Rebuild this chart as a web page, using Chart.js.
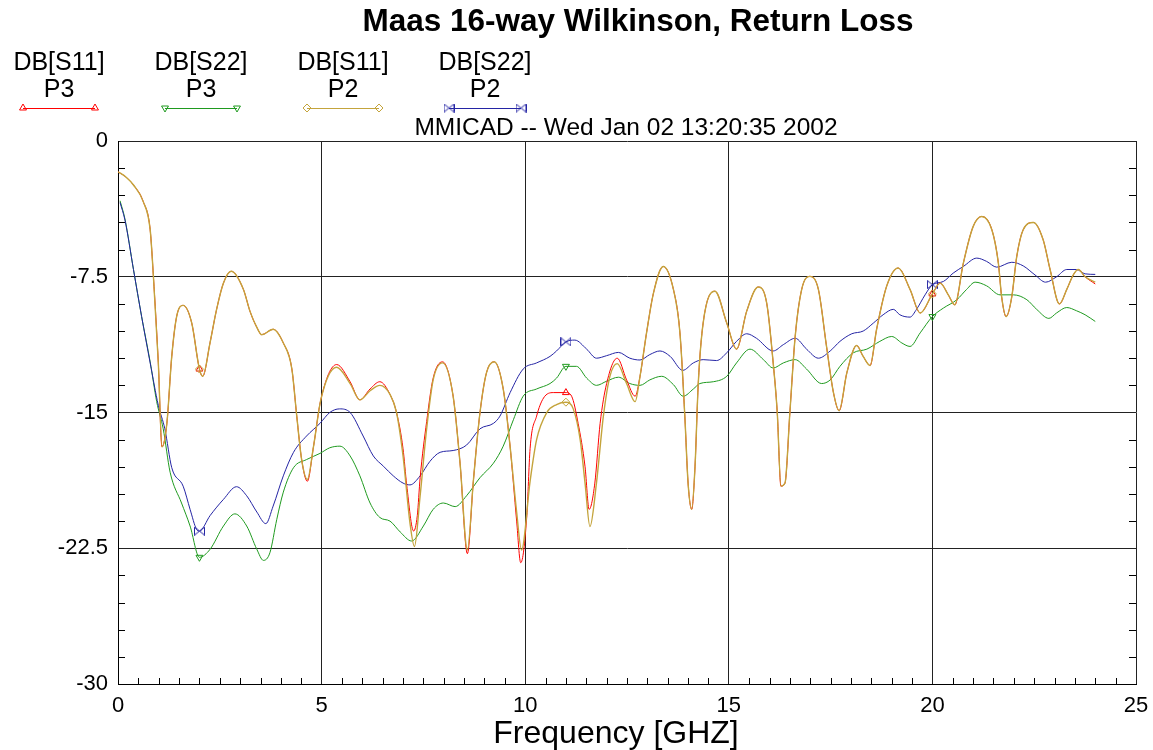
<!DOCTYPE html>
<html>
<head>
<meta charset="utf-8">
<title>Maas 16-way Wilkinson, Return Loss</title>
<script src="https://cdn.jsdelivr.net/npm/chart.js@4/dist/chart.umd.min.js"></script>
<style>
  html, body { margin: 0; padding: 0; background: #fff; }
  #wrap { position: relative; width: 1153px; height: 750px; font-family: "Liberation Sans", Arial, sans-serif; color: #000; }
  #chart { position: absolute; left: 0; top: 0; }
  .txt { position: absolute; white-space: nowrap; line-height: 1; text-align: center; }
  #title { font-weight: bold; font-size: 31.5px; top: 5px; left: 338px; width: 600px; }
  #stamp { font-size: 24.5px; top: 115px; left: 326px; width: 600px; }
  #xtitle { font-size: 32px; top: 716px; left: 316px; width: 600px; }
  .leg { font-size: 25px; width: 140px; }
</style>
</head>
<body>
<div id="wrap">
  <canvas id="chart" width="1153" height="750"></canvas>
  <div id="title" class="txt"></div>
  <div id="stamp" class="txt"></div>
  <div id="xtitle" class="txt"></div>
</div>
<script>
'use strict';

// ---- data ----
const chartTitle = 'Maas 16-way Wilkinson, Return Loss';
const stampText = 'MMICAD -- Wed Jan 02 13:20:35 2002';
const xTitle = 'Frequency [GHZ]';
const legendTop = ['DB[S11]', 'DB[S22]', 'DB[S11]', 'DB[S22]'];
const legendBottom = ['P3', 'P3', 'P2', 'P2'];
const xMin = 0, xMax = 25, xStep = 5;
const yMin = -30, yMax = 0, yStep = 7.5;
const markerFreqs = [2, 11, 20];

// DB[S11] P3
const s11p3Freq = [0,0.2,0.38,0.62,0.79,0.87,0.99,1.08,1.2,1.32,
  1.44,1.6,1.81,2.0,2.08,2.26,2.42,2.59,2.78,3.08,
  3.24,3.41,3.53,3.81,4.06,4.27,4.39,4.51,4.65,4.8,
  4.98,5.37,5.7,5.94,6.19,6.43,6.68,6.84,7.0,7.09,
  7.26,7.35,7.42,7.58,7.74,7.97,8.23,8.4,8.58,8.73,
  8.89,9.05,9.24,9.46,9.63,9.79,9.89,10.04,10.12,10.28,
  10.45,10.69,11.0,11.14,11.3,11.47,11.57,11.71,11.84,12.0,
  12.26,12.49,12.7,12.82,12.98,13.15,13.39,13.64,13.8,13.92,
  14.0,14.09,14.17,14.25,14.37,14.66,14.95,15.19,15.44,15.72,
  15.93,16.09,16.19,16.28,16.38,16.5,16.63,16.79,16.99,17.2,
  17.4,17.57,17.71,17.9,18.14,18.3,18.47,18.63,18.88,19.16,
  19.45,19.7,20.0,20.19,20.39,20.55,20.76,21.0,21.21,21.46,
  21.62,21.7,21.81,21.95,22.07,22.23,22.48,22.72,22.89,23.12,
  23.3,23.46,23.58,23.75,24.0];
const s11p3Db = [-1.7,-2.0,-2.43,-3.35,-4.9,-7.5,-12.25,-16.9,-15.6,-11.9,
  -9.7,-9.08,-10.05,-12.6,-13.0,-11.15,-9.32,-7.85,-7.2,-8.2,
  -9.4,-10.3,-10.7,-10.4,-11.16,-12.6,-15.2,-17.6,-18.8,-16.9,
  -14.3,-12.35,-13.3,-14.3,-13.7,-13.3,-14.0,-15.0,-17.0,-19.0,
  -21.55,-20.7,-18.6,-15.5,-13.1,-12.2,-14.1,-17.8,-22.8,-18.7,
  -15.0,-12.8,-12.2,-13.7,-16.9,-21.0,-23.3,-20.7,-17.0,-15.2,
  -14.2,-13.9,-13.9,-14.1,-15.6,-18.0,-20.35,-18.9,-15.6,-13.4,
  -12.0,-13.2,-14.1,-13.0,-10.6,-8.4,-6.93,-8.2,-10.6,-15.2,
  -18.9,-20.35,-18.0,-13.4,-10.06,-8.3,-10.06,-11.5,-9.4,-8.07,
  -8.95,-12.26,-15.0,-19.07,-18.9,-15.0,-10.8,-8.2,-7.48,-8.2,
  -11.35,-13.9,-14.9,-12.8,-11.3,-11.9,-12.4,-10.4,-8.0,-7.02,
  -8.2,-9.5,-8.45,-7.85,-8.5,-9.05,-6.75,-4.73,-4.17,-4.9,
  -6.75,-8.6,-9.7,-8.6,-6.4,-4.9,-4.5,-5.46,-7.1,-9.0,
  -8.2,-7.4,-7.1,-7.5,-7.9];

// DB[S22] P3
const s22p3Freq = [0.05,0.17,0.38,0.58,0.79,0.95,1.11,1.28,1.56,1.77,
  2.0,2.26,2.59,2.87,3.16,3.41,3.57,3.73,3.9,4.06,
  4.31,4.63,4.96,5.2,5.45,5.7,5.94,6.19,6.43,6.68,
  6.93,7.21,7.5,7.74,7.99,8.28,8.56,8.89,9.22,9.46,
  9.71,9.95,10.28,10.61,10.77,11.0,11.26,11.51,11.75,12.0,
  12.29,12.57,12.82,13.06,13.35,13.64,13.88,14.13,14.29,14.62,
  14.95,15.19,15.52,15.85,16.09,16.34,16.63,16.91,17.28,17.49,
  17.73,18.06,18.39,18.71,19.0,19.25,19.45,19.7,20.0,20.27,
  20.6,20.84,21.05,21.33,21.66,21.99,22.32,22.56,22.86,23.05,
  23.3,23.54,23.75,24.0];
const s22p3Db = [-3.3,-4.3,-7.1,-9.7,-12.2,-14.4,-15.9,-18.3,-20.0,-21.27,
  -23.0,-22.56,-21.27,-20.6,-21.27,-22.56,-23.17,-22.75,-20.9,-19.4,
  -18.05,-17.6,-17.26,-16.95,-16.86,-17.4,-18.5,-20.0,-20.8,-21.0,
  -21.6,-22.1,-21.27,-20.35,-20.0,-20.2,-19.6,-18.6,-17.8,-16.86,
  -15.4,-14.1,-13.7,-13.4,-13.1,-12.45,-12.45,-13.1,-13.5,-13.27,
  -13.05,-13.4,-13.5,-13.2,-13.0,-13.46,-14.1,-13.7,-13.4,-13.3,
  -13.0,-12.26,-11.5,-12.08,-12.54,-12.26,-12.08,-12.6,-13.4,-13.2,
  -12.45,-11.7,-11.5,-11.07,-10.8,-11.16,-11.35,-10.6,-9.7,-9.23,
  -8.77,-8.2,-7.8,-8.0,-8.5,-8.5,-8.77,-9.3,-9.8,-9.5,
  -9.2,-9.38,-9.6,-9.97];

// DB[S11] P2
const s11p2Freq = [0,0.2,0.38,0.62,0.79,0.87,0.99,1.08,1.2,1.32,
  1.44,1.6,1.81,2.0,2.08,2.26,2.42,2.59,2.78,3.08,
  3.24,3.41,3.53,3.81,4.06,4.27,4.39,4.51,4.65,4.8,
  4.98,5.37,5.7,5.94,6.19,6.43,6.68,6.84,7.0,7.17,
  7.28,7.42,7.58,7.74,7.97,8.23,8.4,8.58,8.73,8.89,
  9.05,9.24,9.46,9.63,9.79,9.91,10.12,10.28,10.53,10.77,
  11.0,11.18,11.35,11.47,11.59,11.75,11.92,12.08,12.26,12.49,
  12.7,12.82,12.98,13.15,13.39,13.64,13.8,13.92,14.0,14.09,
  14.17,14.25,14.37,14.66,14.95,15.19,15.44,15.72,15.93,16.09,
  16.19,16.28,16.38,16.5,16.63,16.79,16.99,17.2,17.4,17.57,
  17.71,17.9,18.14,18.3,18.47,18.63,18.88,19.16,19.45,19.7,
  20.0,20.19,20.39,20.55,20.76,21.0,21.21,21.46,21.62,21.7,
  21.81,21.95,22.07,22.23,22.48,22.72,22.89,23.12,23.3,23.46,
  23.58,23.75,24.0];
const s11p2Db = [-1.7,-2.0,-2.43,-3.35,-4.9,-7.5,-12.25,-16.9,-15.6,-11.9,
  -9.7,-9.08,-10.05,-12.6,-13.0,-11.15,-9.32,-7.85,-7.2,-8.2,
  -9.4,-10.3,-10.7,-10.4,-11.16,-12.6,-15.2,-17.6,-18.7,-16.9,
  -14.3,-12.5,-13.4,-14.3,-13.8,-13.5,-14.0,-15.0,-17.4,-21.1,
  -22.4,-19.6,-15.9,-13.2,-12.26,-14.1,-17.8,-22.6,-18.7,-15.0,
  -12.8,-12.2,-13.7,-16.9,-20.5,-22.6,-18.8,-16.5,-15.0,-14.56,
  -14.43,-14.8,-16.5,-18.9,-21.3,-18.9,-15.2,-13.0,-12.3,-13.4,
  -14.4,-13.0,-10.6,-8.4,-6.93,-8.2,-10.6,-15.2,-18.9,-20.35,
  -18.0,-13.4,-10.06,-8.3,-10.06,-11.5,-9.4,-8.07,-8.95,-12.26,
  -15.0,-19.07,-18.9,-15.0,-10.8,-8.2,-7.48,-8.2,-11.35,-13.9,
  -14.9,-12.8,-11.3,-11.9,-12.4,-10.4,-8.0,-7.02,-8.2,-9.5,
  -8.45,-7.85,-8.5,-9.05,-6.75,-4.73,-4.17,-4.9,-6.75,-8.6,
  -9.7,-8.6,-6.4,-4.9,-4.5,-5.46,-7.1,-9.0,-8.2,-7.4,
  -7.1,-7.5,-7.8];

// DB[S22] P2
const s22p2Freq = [0.05,0.17,0.38,0.58,0.79,0.99,1.15,1.32,1.6,1.77,
  1.93,2.0,2.26,2.59,2.91,3.16,3.41,3.63,3.81,4.06,
  4.31,4.63,4.96,5.2,5.44,5.7,6.02,6.27,6.52,6.76,
  7.0,7.17,7.42,7.66,7.91,8.23,8.56,8.89,9.22,9.38,
  9.63,9.95,10.28,10.61,10.77,11.0,11.22,11.51,11.75,12.0,
  12.29,12.57,12.82,13.06,13.31,13.56,13.87,14.13,14.37,14.7,
  14.95,15.19,15.44,15.68,16.09,16.34,16.63,16.91,17.2,17.49,
  17.73,18.02,18.3,18.55,18.79,19.04,19.2,19.45,19.61,19.82,
  20.0,20.27,20.51,20.76,21.09,21.33,21.58,21.95,22.23,22.52,
  22.78,23.05,23.3,23.54,23.75,24.0];
const s22p2Db = [-3.4,-4.36,-7.1,-9.7,-12.26,-14.6,-15.9,-18.05,-19.07,-20.35,
  -21.46,-21.55,-20.7,-19.8,-19.1,-19.6,-20.5,-21.14,-20.17,-18.5,
  -17.2,-16.3,-15.6,-15.0,-14.8,-15.0,-16.3,-17.4,-17.97,-18.5,
  -18.9,-19.0,-18.5,-17.7,-17.2,-17.1,-16.8,-15.9,-15.6,-15.2,
  -13.9,-12.6,-12.26,-11.9,-11.6,-11.1,-11.0,-11.5,-12.0,-11.86,
  -11.68,-12.0,-12.1,-11.8,-11.6,-11.9,-12.67,-12.26,-12.08,-12.13,
  -11.7,-11.07,-10.65,-10.9,-11.6,-11.25,-10.9,-11.5,-12.0,-11.6,
  -11.07,-10.65,-10.5,-10.06,-9.6,-9.3,-9.6,-9.73,-9.3,-8.5,
  -7.94,-7.76,-7.3,-6.93,-6.47,-6.65,-6.97,-6.7,-6.9,-7.4,
  -7.8,-7.5,-7.1,-7.1,-7.34,-7.37];

// ---- styling ----
const colors = ['#ff0000', '#1f9a1f', '#c4a43c', '#2424a4'];
const lineWidths = [1, 1, 1.4, 1];
const legendX = [59, 201, 343, 485];
const legendLineY = 108;

function makeBowtie(color) {
  const c = document.createElement('canvas');
  c.width = 11;
  c.height = 9;
  const g = c.getContext('2d');
  g.strokeStyle = color;
  g.lineWidth = 1;
  g.beginPath();
  g.moveTo(0.5, 0.5);
  g.lineTo(0.5, 8.5);
  g.lineTo(10.5, 0.5);
  g.lineTo(10.5, 8.5);
  g.closePath();
  g.stroke();
  return c;
}

const pointStyles = ['triangle', 'triangle', 'rectRot', makeBowtie(colors[3])];
const pointRotations = [0, 180, 0, 0];
const drawOrder = [1, 3, 0, 2];

function toPoints(fs, ds) {
  return fs.map((f, i) => ({ x: f, y: ds[i] }));
}

const seriesData = [
  toPoints(s11p3Freq, s11p3Db),
  toPoints(s22p3Freq, s22p3Db),
  toPoints(s11p2Freq, s11p2Db),
  toPoints(s22p2Freq, s22p2Db)
];

// ---- html text ----
document.getElementById('title').textContent = chartTitle;
document.getElementById('stamp').textContent = stampText;
document.getElementById('xtitle').textContent = xTitle;
let wrap = document.getElementById('wrap');
for (let i = 0; i < legendTop.length; i++) {
  let a = document.createElement('div');
  a.className = 'txt leg';
  a.style.left = (legendX[i] - 70) + 'px';
  a.style.top = '49px';
  a.textContent = legendTop[i];
  wrap.appendChild(a);
  let b = document.createElement('div');
  b.className = 'txt leg';
  b.style.left = (legendX[i] - 70) + 'px';
  b.style.top = '76px';
  b.textContent = legendBottom[i];
  wrap.appendChild(b);
}

// minor ticks inside the frame
const minorTicks = {
  id: 'minorTicks',
  beforeDatasetsDraw(chart) {
    const { ctx, chartArea: a, scales: { x, y } } = chart;
    ctx.save();
    ctx.strokeStyle = '#000';
    ctx.lineWidth = 1;
    ctx.beginPath();
    for (let f = xMin + 0.5; f < xMax; f += 0.5) {
      if (f % xStep === 0) continue;
      const px = Math.round(x.getPixelForValue(f)) + 0.5;
      ctx.moveTo(px, a.bottom);
      ctx.lineTo(px, a.bottom - 6);
    }
    for (let v = yMax - 1.5; v > yMin; v -= 1.5) {
      if (Math.abs(v % yStep) < 1e-9) continue;
      const py = Math.round(y.getPixelForValue(v)) + 0.5;
      ctx.moveTo(a.left, py);
      ctx.lineTo(a.left + 7, py);
      ctx.moveTo(a.right, py);
      ctx.lineTo(a.right - 7, py);
    }
    ctx.stroke();
    ctx.restore();
  }
};

// legend line samples with the end markers
const legendSamples = {
  id: 'legendSamples',
  afterDraw(chart) {
    const ctx = chart.ctx;
    for (let i = 0; i < colors.length; i++) {
      const x1 = legendX[i] - 36, x2 = legendX[i] + 36;
      ctx.save();
      ctx.strokeStyle = colors[i];
      ctx.fillStyle = 'rgba(0,0,0,0)';
      ctx.lineWidth = 1;
      ctx.beginPath();
      ctx.moveTo(x1, legendLineY + 0.5);
      ctx.lineTo(x2, legendLineY + 0.5);
      ctx.stroke();
      const opts = { pointStyle: pointStyles[i], radius: 4, rotation: pointRotations[i], borderWidth: 1 };
      Chart.helpers.drawPoint(ctx, opts, x1, legendLineY);
      Chart.helpers.drawPoint(ctx, opts, x2, legendLineY);
      ctx.restore();
    }
  }
};

const datasets = seriesData.map((pts, i) => ({
  label: legendTop[i] + ' ' + legendBottom[i],
  data: pts,
  borderColor: colors[i],
  backgroundColor: 'rgba(0,0,0,0)',
  borderWidth: lineWidths[i],
  cubicInterpolationMode: 'monotone',
  pointStyle: pointStyles[i],
  rotation: pointRotations[i],
  pointRadius: c => (c.raw && markerFreqs.includes(c.raw.x)) ? 4 : 0,
  pointBorderColor: colors[i],
  pointBackgroundColor: 'rgba(0,0,0,0)',
  pointBorderWidth: 1,
  pointHoverRadius: 0,
  order: drawOrder[i],
  fill: false
}));

const tickFont = { family: '"Liberation Sans", Arial, sans-serif', size: 22 };

new Chart(document.getElementById('chart'), {
  type: 'line',
  data: { datasets: datasets },
  options: {
    responsive: false,
    animation: false,
    events: [],
    layout: { padding: { top: 141, right: 17, left: 0, bottom: 0 } },
    plugins: {
      legend: { display: false },
      title: { display: false },
      tooltip: { enabled: false }
    },
    scales: {
      x: {
        type: 'linear',
        min: xMin,
        max: xMax,
        ticks: { stepSize: xStep, color: '#000', font: tickFont, padding: 9, maxRotation: 0 },
        grid: { color: '#222', lineWidth: 1, drawTicks: false },
        border: { color: '#000', width: 1 },
        afterFit(s) {
          s.height = 66;
          s.paddingLeft = 0;
          s.paddingRight = 0;
        }
      },
      y: {
        type: 'linear',
        min: yMin,
        max: yMax,
        ticks: { stepSize: yStep, color: '#000', font: tickFont, padding: 10 },
        grid: { color: '#222', lineWidth: 1, drawTicks: false },
        border: { color: '#000', width: 1 },
        afterFit(s) {
          s.width = 118;
          s.paddingTop = 0;
          s.paddingBottom = 0;
        }
      }
    }
  },
  plugins: [minorTicks, legendSamples]
});
</script>
</body>
</html>
